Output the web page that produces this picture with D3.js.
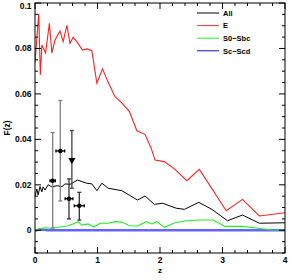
<!DOCTYPE html>
<html>
<head>
<meta charset="utf-8">
<script src="https://cdn.jsdelivr.net/npm/d3@7"></script>
<style>
  body { margin: 0; background: #fff; }
  text { font-family: "Liberation Sans", Arial, sans-serif; font-weight: bold; }
</style>
</head>
<body>
<script>
// series: [z, F(z)]
var allData = [[0,0.0151],[0.03,0.0182],[0.05,0.0155],[0.08,0.0192],[0.11,0.0169],[0.13,0.0191],
  [0.16,0.0177],[0.21,0.0200],[0.27,0.0191],[0.35,0.0196],[0.43,0.0192],[0.48,0.0204],[0.56,0.0202],
  [0.61,0.0210],[0.68,0.0221],[0.75,0.0214],[0.83,0.0207],[0.91,0.0204],[0.99,0.0174],[1.07,0.0207],
  [1.17,0.0185],[1.39,0.0174],[1.64,0.0133],[1.76,0.0151],[1.91,0.0114],[2.04,0.0119],[2.26,0.0097],
  [2.39,0.0092],[2.62,0.0123],[2.83,0.0092],[3.08,0.0042],[3.32,0.0067],[3.59,0.0031],[4.0,0.0033]];

var eData = [[0,0.0736],[0.06,0.0952],[0.085,0.0683],[0.11,0.0815],[0.17,0.0780],[0.23,0.0911],
  [0.27,0.0780],[0.32,0.0837],[0.40,0.0877],[0.45,0.0830],[0.51,0.0902],[0.56,0.0823],[0.61,0.0849],
  [0.67,0.0830],[0.76,0.0793],[0.83,0.0798],[0.91,0.0790],[0.99,0.0647],[1.08,0.0710],[1.17,0.0652],
  [1.28,0.0588],[1.39,0.0561],[1.51,0.0522],[1.63,0.0438],[1.76,0.0422],[1.86,0.0360],[1.92,0.0309],
  [2.07,0.0302],[2.24,0.0268],[2.43,0.0218],[2.63,0.0268],[3.06,0.0086],[3.32,0.0136],[3.59,0.0063],
  [4.0,0.0077]];

var s0Data = [[0,0.0001],[0.08,0.0008],[0.16,0.0011],[0.27,0.0009],[0.37,0.0013],[0.51,0.0019],
  [0.61,0.0028],[0.69,0.0038],[0.75,0.0023],[0.85,0.0028],[0.94,0.0014],[1.04,0.0031],[1.17,0.0031],
  [1.28,0.0038],[1.39,0.0036],[1.51,0.0020],[1.64,0.0019],[1.78,0.0038],[1.87,0.0028],[1.95,0.0038],
  [2.07,0.0013],[2.24,0.0033],[2.43,0.0042],[2.63,0.0045],[2.85,0.0045],[3.04,0.0017],[3.31,0.0017],
  [3.54,0.0010],[3.79,0.0001],[4.0,0.0]];

var scData = [[0,-0.0002],[0.05,0.0002],[0.12,0.0003],[0.2,0.0],[1,0.0],[2,0.0],[3,0.0],[4,0.0]];

// observed points: z, F, z error, lower F, upper F, marker
var obsZ    = [0.283, 0.405, 0.59, 0.544, 0.709];
var obsF    = [0.0218, 0.0349, 0.0309, 0.0139, 0.0108];
var obsZerr = [0.043, 0.07, 0.0, 0.062, 0.08];
var obsLo   = [0.001, 0.0129, 0.0185, 0.005, 0.0045];
var obsHi   = [0.043, 0.0571, 0.0439, 0.0226, 0.0167];
var obsSym  = ["circle", "circle", "triangle", "circle", "circle"];

var xTicks = [0, 1, 2, 3, 4];
var yTicks = [0, 0.02, 0.04, 0.06, 0.08, 0.1];
var yTickLabels = ["0", "0.02", "0.04", "0.06", "0.08", "0.1"];

var legendNames = ["All", "E", "S0\u2212Sbc", "Sc\u2212Scd"];
var legendColors = ["#000000", "#ff3030", "#22ee22", "#1010d0"];

var width = 295, height = 280;
var margin = {left: 35, right: 10, top: 3, bottom: 27};

var x = d3.scaleLinear().domain([0, 4]).range([margin.left, width - margin.right]);
var y = d3.scaleLinear().domain([-0.01, 0.1]).range([height - margin.bottom, margin.top]);

var svg = d3.select("body").append("svg")
    .attr("width", width)
    .attr("height", height);

svg.append("clipPath").attr("id", "clip")
  .append("rect")
    .attr("x", x(0)).attr("y", y(0.1))
    .attr("width", x(4) - x(0)).attr("height", y(-0.01) - y(0.1));

var line = d3.line()
    .x(function(d) { return x(d[0]); })
    .y(function(d) { return y(d[1]); });

var plot = svg.append("g").attr("clip-path", "url(#clip)");

plot.append("path").datum(scData)
    .attr("d", line).attr("fill", "none")
    .attr("stroke", "#6464ff").attr("stroke-width", 2.4);
plot.append("path").datum(s0Data)
    .attr("d", line).attr("fill", "none")
    .attr("stroke", "#22ee22").attr("stroke-width", 1.1);
plot.append("path").datum(allData)
    .attr("d", line).attr("fill", "none")
    .attr("stroke", "#000").attr("stroke-width", 1);
plot.append("path").datum(eData)
    .attr("d", line).attr("fill", "none")
    .attr("stroke", "#ff2020").attr("stroke-width", 1.1);

// error bars
var barColors = ["#808080", "#808080", "#444", "#333", "#333"];
var obs = svg.append("g");
obsZ.forEach(function(z, i) {
  var g = obs.append("g").attr("stroke", barColors[i]).attr("stroke-width", 1.3);
  var cx = x(z), cy = y(obsF[i]);
  g.append("line").attr("x1", cx).attr("x2", cx).attr("y1", y(obsLo[i])).attr("y2", y(obsHi[i]));
  g.append("line").attr("x1", cx - 2).attr("x2", cx + 2).attr("y1", y(obsLo[i])).attr("y2", y(obsLo[i]));
  g.append("line").attr("x1", cx - 2).attr("x2", cx + 2).attr("y1", y(obsHi[i])).attr("y2", y(obsHi[i]));
  if (obsZerr[i] > 0) {
    var x0 = x(z - obsZerr[i]), x1 = x(z + obsZerr[i]);
    g.append("line").attr("x1", x0).attr("x2", x1).attr("y1", cy).attr("y2", cy).attr("stroke", "#000");
    g.append("line").attr("x1", x0).attr("x2", x0).attr("y1", cy - 1.5).attr("y2", cy + 1.5).attr("stroke", "#000");
    g.append("line").attr("x1", x1).attr("x2", x1).attr("y1", cy - 1.5).attr("y2", cy + 1.5).attr("stroke", "#000");
  }
  if (obsSym[i] === "circle") {
    obs.append("circle").attr("cx", cx).attr("cy", cy).attr("r", 2.2).attr("fill", "#000");
  } else {
    obs.append("path")
      .attr("d", d3.symbol().type(d3.symbolTriangle).size(22))
      .attr("transform", "translate(" + cx + "," + cy + ") rotate(180)")
      .attr("fill", "#000");
  }
});

// frame
svg.append("rect")
    .attr("x", x(0)).attr("y", y(0.1))
    .attr("width", x(4) - x(0)).attr("height", y(-0.01) - y(0.1))
    .attr("fill", "none").attr("stroke", "#000").attr("stroke-width", 1);

// ticks, pointing inward on all four sides
var xMinor = d3.range(0, 4.0001, 0.2);
var yMinor = d3.range(-0.01, 0.1001, 0.005);
var ticks = svg.append("g").attr("stroke", "#000").attr("stroke-width", 1);
xMinor.forEach(function(v) {
  var major = xTicks.some(function(t) { return Math.abs(t - v) < 1e-6; });
  var len = major ? 6 : 3;
  ticks.append("line").attr("x1", x(v)).attr("x2", x(v)).attr("y1", y(-0.01)).attr("y2", y(-0.01) - len);
  ticks.append("line").attr("x1", x(v)).attr("x2", x(v)).attr("y1", y(0.1)).attr("y2", y(0.1) + len);
});
yMinor.forEach(function(v) {
  var major = yTicks.some(function(t) { return Math.abs(t - v) < 1e-6; });
  var len = major ? 6 : 3;
  ticks.append("line").attr("x1", x(0)).attr("x2", x(0) + len).attr("y1", y(v)).attr("y2", y(v));
  ticks.append("line").attr("x1", x(4)).attr("x2", x(4) - len).attr("y1", y(v)).attr("y2", y(v));
});

// tick labels
svg.append("g").selectAll("text").data(xTicks).enter().append("text")
    .attr("x", function(d) { return x(d); })
    .attr("y", 263)
    .attr("text-anchor", "middle")
    .attr("font-size", 8.5)
    .text(function(d) { return d; });

svg.append("g").selectAll("text").data(yTicks).enter().append("text")
    .attr("x", 31.5)
    .attr("y", function(d) { return Math.max(y(d) + 3, 8.5); })
    .attr("text-anchor", "end")
    .attr("font-size", 8.5)
    .text(function(d, i) { return yTickLabels[i]; });

// axis titles
svg.append("text")
    .attr("x", x(2)).attr("y", 273)
    .attr("text-anchor", "middle").attr("font-size", 8)
    .text("z");
svg.append("text")
    .attr("transform", "translate(10," + 128 + ") rotate(-90)")
    .attr("text-anchor", "middle").attr("font-size", 8.5)
    .text("F(z)");

// legend
var legend = svg.append("g");
legendNames.forEach(function(name, i) {
  var ly = 13 + i * 12.6;
  legend.append("line")
      .attr("x1", 197).attr("x2", 219).attr("y1", ly).attr("y2", ly)
      .attr("stroke", legendColors[i]).attr("stroke-width", 1);
  legend.append("text")
      .attr("x", 223).attr("y", ly + 2.8)
      .attr("font-size", 7.5)
      .text(name);
});
</script>
</body>
</html>
